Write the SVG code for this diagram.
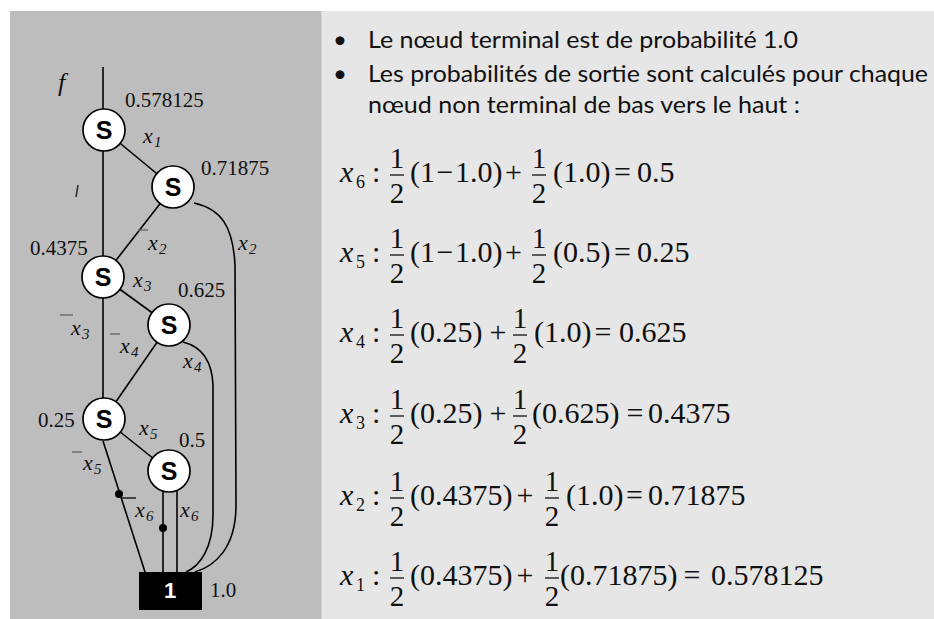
<svg xmlns="http://www.w3.org/2000/svg" width="934" height="619" viewBox="0 0 934 619">
<style>
.num{font-family:'Liberation Serif','DejaVu Serif',serif;font-size:21px;fill:#111}
.var{font-family:'Liberation Serif','DejaVu Serif',serif;font-style:italic;font-size:22px;fill:#111}
.sub{font-family:'Liberation Serif','DejaVu Serif',serif;font-style:italic;font-size:15px;fill:#111}
.node circle{fill:#fff;stroke:#000;stroke-width:1.7}
.node text{font-family:'Liberation Sans',Arial,sans-serif;font-weight:bold;font-size:25px;text-anchor:middle;fill:#000}
.edge{fill:none;stroke:#000;stroke-width:1.6}
.bar{stroke:#666;stroke-width:1.4}
.bul{font-family:Lato,'Liberation Sans',sans-serif;font-size:24px;fill:#111}
.eq{font-family:'Liberation Serif','DejaVu Serif',serif;font-size:30px;fill:#111}
.eqv{font-family:'Liberation Serif','DejaVu Serif',serif;font-style:italic;font-size:30px;fill:#111}
.eqs{font-family:'Liberation Serif','DejaVu Serif',serif;font-size:18px;fill:#111}
.fr{font-family:'Liberation Serif','DejaVu Serif',serif;font-size:29px;fill:#111;text-anchor:middle}
.fb{stroke:#111;stroke-width:1.3}
.mid{text-anchor:middle}
</style>
<rect x="0" y="0" width="934" height="619" fill="#fff"/>
<rect x="10" y="11" width="311" height="608" fill="#bdbdbd"/>
<rect x="321" y="11" width="613" height="608" fill="#e6e6e6"/>
<line x1="321.5" y1="11" x2="321.5" y2="619" stroke="#d8d5c8" stroke-width="1"/>

<g id="connectors">
  <path class="edge" d="M103,67 V109"/>
  <path class="edge" d="M104,130 L173,187"/>
  <path class="edge" d="M103,130 V277"/>
  <path class="edge" d="M173,187 L103,277"/>
  <path class="edge" d="M103,277 L169,325"/>
  <path class="edge" d="M103,277 V419"/>
  <path class="edge" d="M169,325 L104,419"/>
  <path class="edge" d="M104,419 L169,471"/>
  <path class="edge" d="M194,203 C221,209 233,226 235,265 L236,505 C236,548 215,566 195,572"/>
  <path class="edge" d="M183,342 C203,347 212,362 213,385 L213,515 C213,548 200,566 186,572"/>
  <path class="edge" d="M103,441 L145,572"/>
  <path class="edge" d="M163,490 V572"/>
  <path class="edge" d="M177,490 V572"/>
  <circle cx="119" cy="494" r="4" fill="#000"/>
  <circle cx="163" cy="528" r="4" fill="#000"/>
</g>

<g id="n1" class="node"><circle cx="104" cy="130" r="21"/><text x="104" y="139">S</text></g>
<g id="n2" class="node"><circle cx="173" cy="187" r="21"/><text x="173" y="196">S</text></g>
<g id="n3" class="node"><circle cx="103" cy="277" r="21"/><text x="103" y="286">S</text></g>
<g id="n4" class="node"><circle cx="169" cy="325" r="21"/><text x="169" y="334">S</text></g>
<g id="n5" class="node"><circle cx="104" cy="419" r="21"/><text x="104" y="428">S</text></g>
<g id="n6" class="node"><circle cx="169" cy="471" r="21"/><text x="169" y="480">S</text></g>
<g id="terminal">
  <rect x="139" y="572" width="63" height="38" fill="#000"/>
  <text x="170" y="598" font-family="'Liberation Sans',Arial,sans-serif" font-weight="bold" font-size="22" fill="#fff" text-anchor="middle">1</text>
</g>

<g id="labels">
  <text x="58" y="91" font-family="'Liberation Serif','DejaVu Serif',serif" font-style="italic" font-size="26" fill="#111">f</text>
  <text class="num" x="125" y="107">0.578125</text>
  <text class="num" x="201" y="175">0.71875</text>
  <text class="num" x="30" y="255">0.4375</text>
  <text class="num" x="178" y="297">0.625</text>
  <text class="num" x="38" y="427">0.25</text>
  <text class="num" x="179" y="447">0.5</text>
  <text class="num" x="210" y="597">1.0</text>

  <line x1="78" y1="185" x2="76" y2="197" stroke="#333" stroke-width="1.6"/>

  <text class="var" x="143" y="143">x</text><text class="sub" x="154" y="147">1</text>
  <line class="bar" x1="138" y1="230" x2="148" y2="230"/>
  <text class="var" x="148" y="250">x</text><text class="sub" x="159" y="254">2</text>
  <text class="var" x="238" y="250">x</text><text class="sub" x="249" y="254">2</text>
  <text class="var" x="133" y="287">x</text><text class="sub" x="144" y="291">3</text>
  <line class="bar" x1="60" y1="315" x2="73" y2="315"/>
  <text class="var" x="71" y="335">x</text><text class="sub" x="82" y="339">3</text>
  <line class="bar" x1="110" y1="334" x2="120" y2="334"/>
  <text class="var" x="120" y="353">x</text><text class="sub" x="131" y="357">4</text>
  <text class="var" x="183" y="368">x</text><text class="sub" x="194" y="372">4</text>
  <text class="var" x="139" y="435">x</text><text class="sub" x="150" y="439">5</text>
  <line class="bar" x1="72" y1="452" x2="82" y2="452"/>
  <text class="var" x="83" y="470">x</text><text class="sub" x="94" y="474">5</text>
  <line x1="122" y1="498" x2="136" y2="498" stroke="#111" stroke-width="1.4"/>
  <text class="var" x="135" y="517">x</text><text class="sub" x="146" y="521">6</text>
  <text class="var" x="180" y="517">x</text><text class="sub" x="191" y="521">6</text>
</g>

<g id="bullets">
  <text class="bul mid" x="340" y="48">•</text>
  <text class="bul" x="368" y="48" textLength="430" lengthAdjust="spacingAndGlyphs">Le nœud terminal est de probabilité 1.0</text>
  <text class="bul mid" x="340" y="82">•</text>
  <text class="bul" x="368" y="82" textLength="560" lengthAdjust="spacingAndGlyphs">Les probabilités de sortie sont calculés pour chaque</text>
  <text class="bul" x="368" y="113" textLength="432" lengthAdjust="spacingAndGlyphs">nœud non terminal de bas vers le haut :</text>
</g>

<g id="eq6">
  <text class="eqv" x="340" y="182">x</text><text class="eqs" x="356" y="188">6</text>
  <text class="eq" x="372" y="182">:</text>
  <text class="fr" x="397" y="168">1</text><line class="fb" x1="390" y1="175" x2="404" y2="175"/><text class="fr" x="397" y="203">2</text>
  <text class="eq" x="410" y="182">(1</text><text class="eq mid" x="445" y="182">−</text><text class="eq" x="455" y="182">1.0)</text>
  <text class="eq mid" x="513.5" y="182">+</text>
  <text class="fr" x="539" y="168">1</text><line class="fb" x1="532" y1="175" x2="546" y2="175"/><text class="fr" x="539" y="203">2</text>
  <text class="eq" x="553" y="182">(1.0)</text>
  <text class="eq mid" x="622.5" y="182">=</text>
  <text class="eq" x="637" y="182">0.5</text>
</g>
<g id="eq5">
  <text class="eqv" x="340" y="262">x</text><text class="eqs" x="356" y="268">5</text>
  <text class="eq" x="372" y="262">:</text>
  <text class="fr" x="397" y="248">1</text><line class="fb" x1="390" y1="255" x2="404" y2="255"/><text class="fr" x="397" y="283">2</text>
  <text class="eq" x="410" y="262">(1</text><text class="eq mid" x="445" y="262">−</text><text class="eq" x="455" y="262">1.0)</text>
  <text class="eq mid" x="513.5" y="262">+</text>
  <text class="fr" x="539" y="248">1</text><line class="fb" x1="532" y1="255" x2="546" y2="255"/><text class="fr" x="539" y="283">2</text>
  <text class="eq" x="553" y="262">(0.5)</text>
  <text class="eq mid" x="622.5" y="262">=</text>
  <text class="eq" x="637" y="262">0.25</text>
</g>
<g id="eq4">
  <text class="eqv" x="340" y="342">x</text><text class="eqs" x="356" y="348">4</text>
  <text class="eq" x="372" y="342">:</text>
  <text class="fr" x="397" y="328">1</text><line class="fb" x1="390" y1="335" x2="404" y2="335"/><text class="fr" x="397" y="363">2</text>
  <text class="eq" x="410" y="342">(0.25)</text>
  <text class="eq mid" x="498" y="342">+</text>
  <text class="fr" x="520" y="328">1</text><line class="fb" x1="513" y1="335" x2="527" y2="335"/><text class="fr" x="520" y="363">2</text>
  <text class="eq" x="534" y="342">(1.0)</text>
  <text class="eq mid" x="603" y="342">=</text>
  <text class="eq" x="619" y="342">0.625</text>
</g>
<g id="eq3">
  <text class="eqv" x="340" y="423">x</text><text class="eqs" x="356" y="429">3</text>
  <text class="eq" x="372" y="423">:</text>
  <text class="fr" x="397" y="409">1</text><line class="fb" x1="390" y1="416" x2="404" y2="416"/><text class="fr" x="397" y="444">2</text>
  <text class="eq" x="410" y="423">(0.25)</text>
  <text class="eq mid" x="498" y="423">+</text>
  <text class="fr" x="520" y="409">1</text><line class="fb" x1="513" y1="416" x2="527" y2="416"/><text class="fr" x="520" y="444">2</text>
  <text class="eq" x="532" y="423">(0.625)</text>
  <text class="eq mid" x="635" y="423">=</text>
  <text class="eq" x="648" y="423">0.4375</text>
</g>
<g id="eq2">
  <text class="eqv" x="340" y="505">x</text><text class="eqs" x="356" y="511">2</text>
  <text class="eq" x="372" y="505">:</text>
  <text class="fr" x="397" y="491">1</text><line class="fb" x1="390" y1="498" x2="404" y2="498"/><text class="fr" x="397" y="526">2</text>
  <text class="eq" x="410" y="505">(0.4375)</text>
  <text class="eq mid" x="525" y="505">+</text>
  <text class="fr" x="552" y="491">1</text><line class="fb" x1="545" y1="498" x2="559" y2="498"/><text class="fr" x="552" y="526">2</text>
  <text class="eq" x="566" y="505">(1.0)</text>
  <text class="eq mid" x="634.5" y="505">=</text>
  <text class="eq" x="648" y="505">0.71875</text>
</g>
<g id="eq1">
  <text class="eqv" x="340" y="585">x</text><text class="eqs" x="356" y="591">1</text>
  <text class="eq" x="372" y="585">:</text>
  <text class="fr" x="397" y="571">1</text><line class="fb" x1="390" y1="578" x2="404" y2="578"/><text class="fr" x="397" y="606">2</text>
  <text class="eq" x="410" y="585">(0.4375)</text>
  <text class="eq mid" x="525" y="585">+</text>
  <text class="fr" x="552" y="571">1</text><line class="fb" x1="545" y1="578" x2="559" y2="578"/><text class="fr" x="552" y="606">2</text>
  <text class="eq" x="560" y="585">(0.71875)</text>
  <text class="eq mid" x="692" y="585">=</text>
  <text class="eq" x="711" y="585">0.578125</text>
</g>
</svg>
